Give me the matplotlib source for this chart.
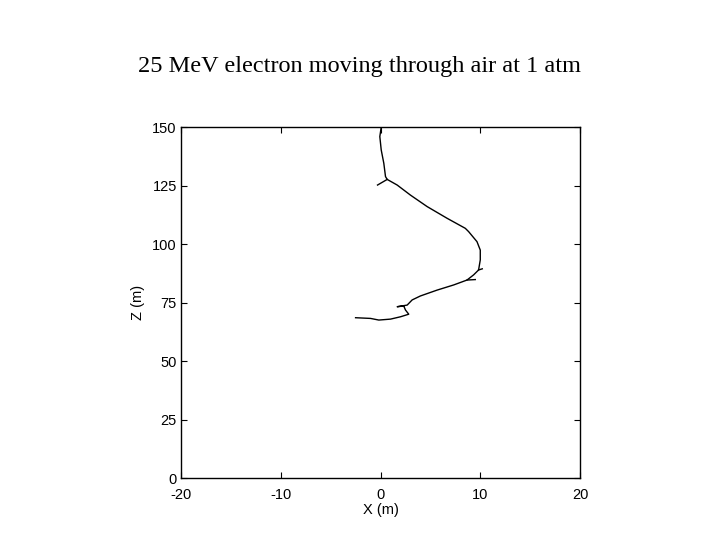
import matplotlib
matplotlib.use("Agg")
import matplotlib.pyplot as plt

plt.rcParams["axes.unicode_minus"] = False

# electron track (X in m, Z in m)
track_x = [0.07, -0.07, 0.07, 0.33, 0.5, 0.67, 1.67, 3.0, 4.67, 6.67, 8.5, 8.83,
           9.67, 10.0, 10.0, 9.83, 9.33, 8.67, 7.33, 5.67, 4.0, 3.17, 2.67, 1.67,
           2.33, 2.5, 2.83, 2.0, 1.0, -0.17, -1.0, -2.5]
track_z = [150.0, 145.9, 140.2, 134.5, 128.8, 127.6, 125.2, 120.9, 116.0, 111.0, 106.7,
           105.3, 101.0, 97.4, 93.2, 88.9, 86.8, 84.6, 82.5, 80.3, 77.8, 76.1, 73.9,
           73.2, 73.5, 71.8, 70.0, 68.9, 67.9, 67.5, 68.2, 68.5]

# short side branches (delta rays)
stub1_x = [-0.3, 0.67]
stub1_z = [125.2, 127.6]
stub2_x = [8.67, 9.5]
stub2_z = [84.6, 84.8]
stub3_x = [9.83, 10.2]
stub3_z = [88.9, 89.4]

xticks = [-20, -10, 0, 10, 20]
zticks = [0, 25, 50, 75, 100, 125, 150]

fig = plt.figure(figsize=(7.2, 5.4), dpi=100)
fig.text(0.5, 0.876, "25 MeV electron moving through air at 1 atm",
         ha="center", va="center", family="Liberation Serif", fontsize=17.5)

ax = fig.add_axes([0.2514, 0.1148, 0.5542, 0.65])
ax.plot(track_x, track_z, color="black", lw=1.0)
ax.plot(stub1_x, stub1_z, color="black", lw=1.0)
ax.plot(stub2_x, stub2_z, color="black", lw=1.0)
ax.plot(stub3_x, stub3_z, color="black", lw=1.0)

ax.set_xlim(-20, 20)
ax.set_ylim(0, 150)
ax.set_xticks(xticks)
ax.set_yticks(zticks)
ax.tick_params(direction="in", length=4, width=0.8, top=True, right=True,
               labelsize=10.5)
ax.tick_params(axis="x", pad=7)
ax.tick_params(axis="y", pad=3)
for lab in ax.get_xticklabels() + ax.get_yticklabels():
    lab.set_family("Liberation Sans")
for s in ax.spines.values():
    s.set_linewidth(1.0)

ax.set_xlabel("X (m)", family="Liberation Sans", fontsize=10.5, labelpad=1)
ax.set_ylabel("Z (m)", family="Liberation Sans", fontsize=10.5, labelpad=5)

fig.savefig("out.png", dpi=100)
